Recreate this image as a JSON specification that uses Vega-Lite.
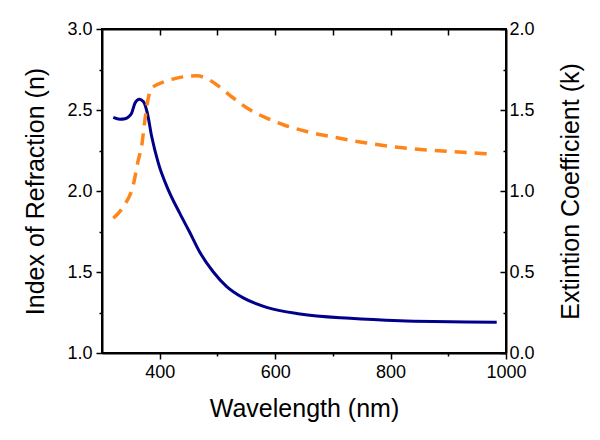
{
  "$schema": "https://vega.github.io/schema/vega-lite/v6.json",
  "width": 404,
  "height": 324,
  "autosize": {"type": "none"},
  "padding": {"left": 102, "top": 29, "right": 94, "bottom": 87},
  "background": "white",
  "config": {
    "font": "Liberation Sans",
    "view": {"stroke": "black", "strokeWidth": 2},
    "axis": {
      "grid": false,
      "domainColor": "black",
      "domainWidth": 2,
      "tickColor": "black",
      "tickWidth": 1.5,
      "labelColor": "black",
      "titleColor": "black",
      "labelFontSize": 18,
      "titleFontSize": 25,
      "titleFontWeight": "normal",
      "labelBound": false,
      "labelFlush": false,
      "labelOverlap": false
    }
  },
  "datasets": {
    "n": [
      {"wavelength": 319.6, "n": 2.454},
      {"wavelength": 331, "n": 2.443},
      {"wavelength": 339.9, "n": 2.446},
      {"wavelength": 346, "n": 2.458},
      {"wavelength": 351.4, "n": 2.481},
      {"wavelength": 357.2, "n": 2.543},
      {"wavelength": 364.6, "n": 2.567},
      {"wavelength": 371.6, "n": 2.553},
      {"wavelength": 378.6, "n": 2.481},
      {"wavelength": 386.1, "n": 2.336},
      {"wavelength": 397.6, "n": 2.172},
      {"wavelength": 414.9, "n": 2.007},
      {"wavelength": 435.1, "n": 1.86},
      {"wavelength": 451.3, "n": 1.75},
      {"wavelength": 469.8, "n": 1.62},
      {"wavelength": 492.9, "n": 1.5},
      {"wavelength": 516.1, "n": 1.41},
      {"wavelength": 544.8, "n": 1.34},
      {"wavelength": 585.3, "n": 1.282},
      {"wavelength": 643.1, "n": 1.241},
      {"wavelength": 729.7, "n": 1.214},
      {"wavelength": 816.3, "n": 1.199},
      {"wavelength": 874, "n": 1.194},
      {"wavelength": 931.9, "n": 1.191},
      {"wavelength": 983.9, "n": 1.19}
    ],
    "k": [
      {"wavelength": 319.6, "k": 0.832},
      {"wavelength": 337, "k": 0.904},
      {"wavelength": 354.2, "k": 1.038},
      {"wavelength": 362.9, "k": 1.192},
      {"wavelength": 368.6, "k": 1.275},
      {"wavelength": 374.4, "k": 1.44},
      {"wavelength": 380.2, "k": 1.574},
      {"wavelength": 386.1, "k": 1.635},
      {"wavelength": 409.2, "k": 1.676},
      {"wavelength": 429.4, "k": 1.697},
      {"wavelength": 464.1, "k": 1.711},
      {"wavelength": 478, "k": 1.7},
      {"wavelength": 498.7, "k": 1.656},
      {"wavelength": 527.5, "k": 1.574},
      {"wavelength": 556.4, "k": 1.501},
      {"wavelength": 585.3, "k": 1.45},
      {"wavelength": 614.2, "k": 1.409},
      {"wavelength": 654.6, "k": 1.367},
      {"wavelength": 700.8, "k": 1.333},
      {"wavelength": 758.6, "k": 1.296},
      {"wavelength": 816.3, "k": 1.268},
      {"wavelength": 874, "k": 1.25},
      {"wavelength": 931.9, "k": 1.238},
      {"wavelength": 975, "k": 1.228}
    ]
  },
  "layer": [
    {
      "data": {"name": "n"},
      "mark": {"type": "line", "color": "#00008b", "strokeWidth": 3, "interpolate": "monotone"},
      "encoding": {
        "x": {
          "field": "wavelength", "type": "quantitative",
          "scale": {"domain": [300, 1000], "nice": false, "zero": false},
          "axis": {
            "orient": "bottom",
            "title": "Wavelength (nm)",
            "values": [400, 500, 600, 700, 800, 900, 1000],
            "labelExpr": "datum.value % 200 === 0 ? datum.label : ''",
            "format": "d",
            "tickSize": {"condition": {"test": "datum.value % 200 === 0", "value": 6}, "value": 3},
            "labelPadding": 4,
            "titleX": 202,
            "titleY": 63,
            "titleAlign": "center",
            "titleBaseline": "alphabetic"
          }
        },
        "y": {
          "field": "n", "type": "quantitative",
          "scale": {"domain": [1, 3], "nice": false, "zero": false},
          "axis": {
            "orient": "left",
            "title": "Index of Refraction (n)",
            "values": [1, 1.25, 1.5, 1.75, 2, 2.25, 2.5, 2.75, 3],
            "format": ".1f",
            "labelExpr": "abs(datum.value * 2 - round(datum.value * 2)) < 0.001 ? datum.label : ''",
            "tickSize": {"condition": {"test": "abs(datum.value * 2 - round(datum.value * 2)) < 0.001", "value": 6}, "value": 3},
            "labelPadding": 4,
            "titleX": -67,
            "titleY": 162,
            "titleAngle": -90,
            "titleAlign": "center",
            "titleBaseline": "middle"
          }
        }
      }
    },
    {
      "data": {"name": "k"},
      "mark": {"type": "line", "color": "#ff8419", "strokeWidth": 3.5, "strokeDash": [12, 8], "interpolate": "monotone"},
      "encoding": {
        "x": {
          "field": "wavelength", "type": "quantitative",
          "scale": {"domain": [300, 1000], "nice": false, "zero": false},
          "axis": {
            "orient": "top",
            "title": null,
            "labels": false,
            "values": [400, 500, 600, 700, 800, 900],
            "tickSize": -6
          }
        },
        "y": {
          "field": "k", "type": "quantitative",
          "scale": {"domain": [0, 2], "nice": false, "zero": false},
          "axis": {
            "orient": "right",
            "title": "Extintion Coefficient (k)",
            "values": [0, 0.25, 0.5, 0.75, 1, 1.25, 1.5, 1.75, 2],
            "format": ".1f",
            "labelExpr": "abs(datum.value * 2 - round(datum.value * 2)) < 0.001 ? datum.label : ''",
            "tickSize": {"condition": {"test": "abs(datum.value * 2 - round(datum.value * 2)) < 0.001", "value": -6}, "value": -3},
            "labelPadding": 9,
            "titleX": 64,
            "titleY": 162,
            "titleAngle": -90,
            "titleAlign": "center",
            "titleBaseline": "middle"
          }
        }
      }
    }
  ],
  "resolve": {"scale": {"y": "independent"}, "axis": {"x": "independent"}}
}
